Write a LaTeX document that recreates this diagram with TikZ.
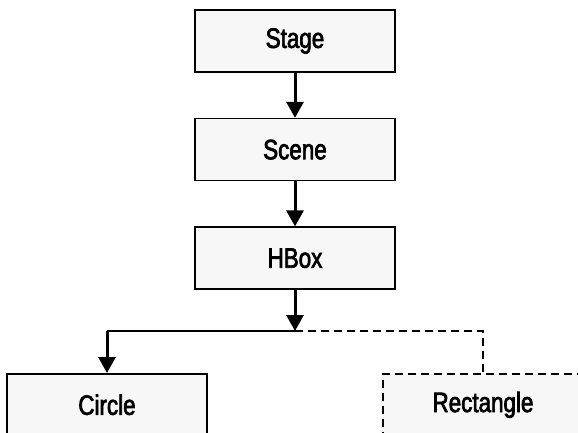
\documentclass[tikz,border=0pt]{standalone}
\usepackage{fontspec}
\setmainfont{Liberation Sans}[FakeStretch=0.8, FakeBold=2.5]
\usetikzlibrary{positioning, arrows.meta}

\begin{document}
\begin{tikzpicture}[>={Triangle[width=17pt,length=16pt]}, node distance=45pt,
    block/.style={draw, line width=1.6pt, fill=black!3, minimum width=200pt, minimum height=62pt,
                  inner sep=0pt, font=\fontsize{28}{32}\selectfont},
    link/.style={->, line width=3pt},
    branch/.style={line width=1.5pt},
    optional/.style={line width=1.5pt, dash pattern=on 8pt off 5pt}]
    \useasboundingbox (0,0) rectangle (578pt,-432pt);
    \clip (0,0) rectangle (578pt,-432pt);
    % main chain
    \node[block] (stage) at (295pt,-41pt) {Stage};
    \node[block] (scene) [below=of stage] {Scene};
    \node[block] (hbox) [below=of scene] {HBox};
    % children
    \node[block] (circle) [below=83pt of hbox, xshift=-188pt] {Circle};
    \node[block, dash pattern=on 8pt off 5pt] (rect) [below=83pt of hbox, xshift=188pt] {Rectangle};
    \coordinate (split) at ([yshift=-41pt]hbox.south);
    \coordinate (turn) at (split -| circle.north);

    \draw[link] (stage) -- (scene);
    \draw[link] (scene) -- (hbox);
    \draw[link] (hbox) -- (split);
    \draw[branch] (split) -- (turn);
    \draw[link] (turn) -- (circle);
    \draw[optional] (split) -| (rect);
\end{tikzpicture}
\end{document}
